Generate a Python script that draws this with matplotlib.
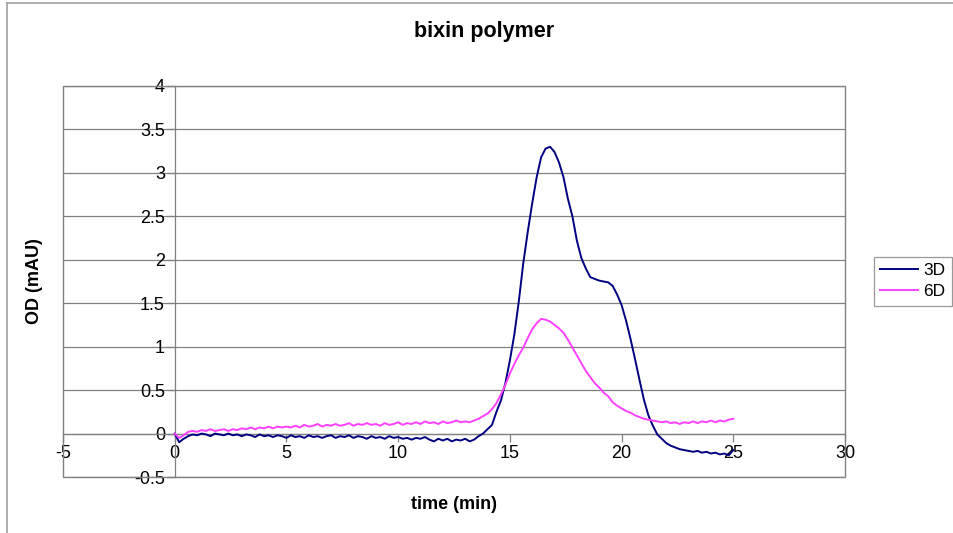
import numpy as np
import matplotlib
matplotlib.use("Agg")
import matplotlib.pyplot as plt
from matplotlib.lines import Line2D
from matplotlib.patches import Rectangle

plt.rcParams['font.family'] = ['Liberation Sans', 'DejaVu Sans']

time_min = [round(0.2 * i, 1) for i in range(126)]

od_3d = [
    0.00, -0.10, -0.06, -0.03, -0.01, -0.02, 0.00, -0.01, -0.03, 0.00,
    -0.01, -0.02, 0.00, -0.02, -0.01, -0.03, -0.01, -0.02, -0.04, -0.01,
    -0.03, -0.02, -0.04, -0.02, -0.03, -0.05, -0.02, -0.04, -0.03, -0.05,
    -0.02, -0.04, -0.03, -0.05, -0.03, -0.02, -0.05, -0.03, -0.04, -0.02,
    -0.05, -0.03, -0.04, -0.06, -0.03, -0.05, -0.04, -0.06, -0.03, -0.05,
    -0.04, -0.06, -0.05, -0.07, -0.05, -0.06, -0.04, -0.07, -0.09, -0.06,
    -0.08, -0.06, -0.09, -0.07, -0.08, -0.06, -0.09, -0.07, -0.03, 0.00,
    0.05, 0.10, 0.25, 0.38, 0.58, 0.84, 1.14, 1.52, 1.96, 2.32,
    2.65, 2.95, 3.18, 3.28, 3.30, 3.24, 3.12, 2.95, 2.70, 2.50,
    2.22, 2.02, 1.90, 1.80, 1.78, 1.76, 1.75, 1.74, 1.70, 1.60,
    1.48, 1.30, 1.09, 0.86, 0.62, 0.39, 0.21, 0.09, -0.01, -0.06,
    -0.11, -0.14, -0.16, -0.18, -0.19, -0.20, -0.21, -0.20, -0.22, -0.21,
    -0.23, -0.22, -0.24, -0.23, -0.25, -0.19,
]

od_6d = [
    0.00, -0.05, -0.02, 0.02, 0.03, 0.02, 0.04, 0.03, 0.05, 0.03,
    0.04, 0.05, 0.03, 0.05, 0.04, 0.06, 0.05, 0.07, 0.05, 0.07,
    0.06, 0.08, 0.06, 0.08, 0.07, 0.08, 0.07, 0.09, 0.07, 0.10,
    0.08, 0.09, 0.11, 0.08, 0.10, 0.09, 0.11, 0.09, 0.10, 0.12,
    0.09, 0.11, 0.10, 0.12, 0.10, 0.11, 0.09, 0.12, 0.10, 0.11,
    0.13, 0.10, 0.12, 0.11, 0.13, 0.11, 0.14, 0.12, 0.13, 0.11,
    0.14, 0.12, 0.13, 0.15, 0.13, 0.14, 0.13, 0.15, 0.17, 0.20,
    0.23, 0.28, 0.35, 0.45, 0.56, 0.69, 0.80, 0.90, 0.99, 1.10,
    1.20, 1.27, 1.32, 1.31, 1.29, 1.25, 1.21, 1.16, 1.08, 0.99,
    0.90, 0.81, 0.72, 0.65, 0.58, 0.53, 0.47, 0.43, 0.36, 0.32,
    0.29, 0.26, 0.24, 0.21, 0.19, 0.17, 0.16, 0.15, 0.14, 0.13,
    0.14, 0.12, 0.13, 0.11, 0.13, 0.12, 0.14, 0.12, 0.14, 0.13,
    0.15, 0.13, 0.15, 0.14, 0.16, 0.17,
]

x_ticks = [-5, 0, 5, 10, 15, 20, 25, 30]
y_ticks = [-0.5, 0, 0.5, 1, 1.5, 2, 2.5, 3, 3.5, 4]
y_tick_labels = ["-0.5", "0", "0.5", "1", "1.5", "2", "2.5", "3", "3.5", "4"]

W, H = 954, 533
fig = plt.figure(figsize=(W / 100, H / 100), dpi=100)
fig.patch.set_facecolor("white")

# chart border (Excel-like)
fig.add_artist(Line2D([7 / W, 7 / W], [0, 1 - 3 / H], color="#a0a0a0", lw=1.2))
fig.add_artist(Line2D([7 / W, 1], [1 - 3 / H, 1 - 3 / H], color="#a0a0a0", lw=1.2))

left, right, top, bottom = 63, 845, 86, 477
ax = fig.add_axes([left / W, 1 - bottom / H, (right - left) / W, (bottom - top) / H])
ax.set_xlim(-5, 30)
ax.set_ylim(-0.5, 4)

gray = "#808080"
for yv in y_ticks:
    ax.axhline(yv, color=gray, lw=0.9, zorder=1)

ax.plot(time_min, od_3d, color="#000080", lw=1.4, label="3D", zorder=3)
ax.plot(time_min, od_6d, color="#ff40ff", lw=1.4, label="6D", zorder=3)

ax.spines["left"].set_position(("data", 0))
ax.spines["bottom"].set_position(("data", 0))
ax.spines["top"].set_visible(False)
ax.spines["right"].set_visible(False)
for s in ("left", "bottom"):
    ax.spines[s].set_color(gray)
    ax.spines[s].set_linewidth(0.9)

ax.add_patch(Rectangle((0, 0), 1, 1, transform=ax.transAxes, fill=False,
                       edgecolor=gray, lw=1.0, clip_on=False, zorder=2))

ax.set_xticks(x_ticks)
ax.set_xticklabels([str(v) for v in x_ticks])
ax.set_yticks(y_ticks)
ax.set_yticklabels(y_tick_labels)
ax.tick_params(axis="both", direction="out", length=6, width=0.9, color=gray,
               labelsize=13, labelcolor="black")
ax.tick_params(axis="y", pad=1)
ax.tick_params(axis="x", pad=2)

ax.set_xlabel("time (min)", fontsize=13, fontweight="bold")
ax.xaxis.set_label_coords(0.5, -0.049)
ax.set_ylabel("OD (mAU)", fontsize=13, fontweight="bold")
ax.yaxis.set_label_coords(-0.025, 0.5)

fig.text(484 / W, 1 - 31 / H, "bixin polymer", ha="center", va="center",
         fontsize=15.5, fontweight="bold")

leg = ax.legend(loc="upper left", bbox_to_anchor=(874 / W, 1 - 257 / H),
                bbox_transform=fig.transFigure, frameon=True, fancybox=False,
                fontsize=12.5, handlelength=2.2, handletextpad=0.3,
                borderpad=0.35, labelspacing=0.35, borderaxespad=0)
leg.get_frame().set_edgecolor(gray)
leg.get_frame().set_linewidth(0.9)

fig.savefig("out.png", dpi=100)
